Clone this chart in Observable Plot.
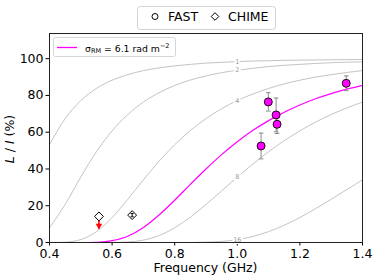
<!DOCTYPE html>
<html><head><meta charset="utf-8">
<script src="https://cdn.jsdelivr.net/npm/d3@7"></script>
<script src="https://cdn.jsdelivr.net/npm/@observablehq/plot@0.6"></script>
<style>
body{margin:0;background:#fff;font-family:"DejaVu Sans",sans-serif;}
#wrap{position:relative;width:374px;height:280px;overflow:hidden;background:#fff;}
#chart{position:absolute;left:0;top:30px;}
#legendTop{position:absolute;left:137px;top:6px;}
#legendIn{position:absolute;left:53px;top:37px;}
svg text{font-family:"DejaVu Sans",sans-serif;}
</style></head>
<body><div id="wrap"><div id="chart"></div><div id="legendTop"></div><div id="legendIn"></div></div>
<script>
// ---- data ----
const freqGHz = [0.40,0.45,0.50,0.55,0.60,0.65,0.70,0.75,0.80,0.85,0.90,0.95,1.00,1.05,1.10,1.15,1.20,1.25,1.30,1.35,1.40];
const sigmaLabels = ["1","2","4","8","16"];
const curveS1  = [53.2,67.4,77.2,83.8,88.3,91.3,93.5,95.0,96.1,96.9,97.6,98.0,98.4,98.7,98.9,99.1,99.2,99.3,99.4,99.5,99.6];
const curveS2  = [8.0,20.7,35.6,49.4,60.7,69.6,76.4,81.5,85.4,88.4,90.6,92.4,93.7,94.8,95.7,96.4,96.9,97.4,97.8,98.1,98.3];
const curveS4  = [0.0,0.2,1.6,5.9,13.6,23.5,34.1,44.2,53.2,60.9,67.4,72.8,77.2,80.8,83.8,86.3,88.3,90.0,91.3,92.5,93.5];
const curveS8  = [0.0,0.0,0.0,0.0,0.0,0.3,1.3,3.8,8.0,13.8,20.7,28.1,35.6,42.7,49.4,55.4,60.7,65.5,69.6,73.2,76.4];
const curveS16 = [0.0,0.0,0.0,0.0,0.0,0.0,0.0,0.0,0.0,0.0,0.2,0.6,1.6,3.3,5.9,9.4,13.6,18.4,23.5,28.8,34.1];
const fitCurve = [0.0,0.0,0.0,0.1,1.0,3.4,8.2,15.0,23.0,31.6,40.0,47.8,54.8,61.0,66.3,70.9,74.8,78.2,81.0,83.4,85.5];
const labelFreq = 1.0;

const fastFreq = [1.076,1.099,1.124,1.127,1.348];
const fastLI   = [52.5,76.5,69.4,64.3,86.6];
const fastErr  = [7.0,5.0,9.2,5.0,4.0];

const chimeFreq = [0.558,0.664];
const chimeLI   = [14.2,14.9];
const chimeErr  = [0,0.9];
const limitFreq = [0.558];
const limitFrom = [14.2];
const limitTo   = [7.3];

const xTicks = [0.4,0.6,0.8,1.0,1.2,1.4];
const yTicks = [0,20,40,60,80,100];

// ---- build tables ----
const curves = [curveS1,curveS2,curveS4,curveS8,curveS16];
const rows = [];
curves.forEach((arr,i)=>arr.forEach((v,j)=>rows.push({f:freqGHz[j],v,s:sigmaLabels[i]})));
const li = freqGHz.indexOf(labelFreq);
const labelRows = curves.map((arr,i)=>({f:freqGHz[li],v:arr[li],s:sigmaLabels[i]}));
const fitRows = fitCurve.map((v,j)=>({f:freqGHz[j],v}));
const fastRows = fastFreq.map((f,i)=>({f,v:fastLI[i],lo:fastLI[i]-fastErr[i],hi:fastLI[i]+fastErr[i]}));
const capRows = fastRows.flatMap(d=>[{f:d.f,v:d.lo},{f:d.f,v:d.hi}]);
const chimeRows = chimeFreq.map((f,i)=>({f,v:chimeLI[i],lo:chimeLI[i]-chimeErr[i],hi:chimeLI[i]+chimeErr[i],e:chimeErr[i]}));
const chimeErrRows = chimeRows.filter(d=>d.e>0);
const chimeCapRows = chimeErrRows.flatMap(d=>[{f:d.f,v:d.lo},{f:d.f,v:d.hi}]);
const limitRows = limitFreq.map((f,i)=>({f,from:limitFrom[i],to:limitTo[i]}));

const capSymbol = {draw(ctx,size){const r=Math.sqrt(size/Math.PI);ctx.moveTo(-r,0);ctx.lineTo(r,0);}};

const plot = Plot.plot({
  width:374, height:250,
  marginTop:3, marginBottom:38, marginLeft:49, marginRight:12,
  style:{fontFamily:'"DejaVu Sans", sans-serif', fontSize:"12.5px", color:"#000", background:"transparent", overflow:"visible"},
  x:{domain:[0.4,1.4], ticks:xTicks, tickFormat:d=>d.toFixed(1), label:null, tickSize:3.5, tickPadding:3.5},
  y:{domain:[0,113.7], ticks:yTicks, label:null, tickSize:3.5, tickPadding:2.5},
  marks:[
    Plot.line(rows,{x:"f",y:"v",z:"s",stroke:"#c4c4c4",strokeWidth:1,curve:"monotone-x"}),
    Plot.text(labelRows,{x:"f",y:"v",text:"s",fill:"#999",fontSize:6.5,stroke:"white",strokeWidth:4}),
    Plot.line(fitRows,{x:"f",y:"v",stroke:"#ff00ff",strokeWidth:1.2,curve:"monotone-x"}),
    Plot.ruleX(fastRows,{x:"f",y1:"lo",y2:"hi",stroke:"#8c8c8c",strokeWidth:1}),
    Plot.dot(capRows,{x:"f",y:"v",symbol:capSymbol,r:2.3,stroke:"#8c8c8c",fill:"none",strokeWidth:1}),
    Plot.dot(fastRows,{x:"f",y:"v",r:4,fill:"#ff00ff",stroke:"#000",strokeWidth:0.9}),
    Plot.ruleX(limitRows,{x:"f",y1:"from",y2:"to",stroke:"#ff0000",strokeWidth:1.6}),
    Plot.dot(limitRows,{x:"f",y:"to",symbol:"triangle",rotate:180,r:2.4,fill:"#ff0000",stroke:"none",dy:-3.4}),
    Plot.dot(chimeRows,{x:"f",y:"v",symbol:"diamond2",r:4,stroke:"#000",fill:"white",strokeWidth:1}),
    Plot.ruleX(chimeErrRows,{x:"f",y1:"lo",y2:"hi",stroke:"#000",strokeWidth:1}),
    Plot.dot(chimeCapRows,{x:"f",y:"v",symbol:capSymbol,r:1.5,stroke:"#000",fill:"none",strokeWidth:1}),
    Plot.frame({stroke:"#222",strokeWidth:1})
  ]
});
document.getElementById("chart").appendChild(plot);

// axis labels
const svg = d3.select(plot);
svg.append("text").attr("x",205.5).attr("y",242).attr("text-anchor","middle")
  .attr("font-size",12.5).attr("fill","#000").text("Frequency (GHz)");
const yl = svg.append("text").attr("transform","translate(14,109) rotate(-90)")
  .attr("text-anchor","middle").attr("font-size",12.5).attr("fill","#000");
yl.append("tspan").attr("font-style","italic").text("L");
yl.append("tspan").text(" / ");
yl.append("tspan").attr("font-style","italic").text("I");
yl.append("tspan").text(" (%)");

// top legend
const lt = d3.select("#legendTop").append("svg").attr("width",140).attr("height",25);
lt.append("rect").attr("x",0.5).attr("y",0.5).attr("width",138).attr("height",23).attr("rx",3)
  .attr("fill","#fff").attr("stroke","#d3d3d3");
lt.append("path").attr("d",d3.symbol(d3.symbolCircle, Math.PI*9)()).attr("transform","translate(18,10.5)")
  .attr("fill","none").attr("stroke","#000").attr("stroke-width",1);
lt.append("text").attr("x",31).attr("y",15.2).attr("font-size",12.5).text("FAST");
lt.append("path").attr("d","M0,-3.8L3.8,0L0,3.8L-3.8,0Z").attr("transform","translate(78,10.5)")
  .attr("fill","none").attr("stroke","#000").attr("stroke-width",1);
lt.append("text").attr("x",91).attr("y",15.2).attr("font-size",12.5).text("CHIME");

// inner legend
const lg = d3.select("#legendIn").append("svg").attr("width",124).attr("height",21);
lg.append("rect").attr("x",0.5).attr("y",0.5).attr("width",122).attr("height",19).attr("rx",2)
  .attr("fill","rgba(255,255,255,0.85)").attr("stroke","#d6d6d6");
lg.append("line").attr("x1",4).attr("x2",24).attr("y1",10.5).attr("y2",10.5)
  .attr("stroke","#ff00ff").attr("stroke-width",1.3);
const lgt = lg.append("text").attr("x",32).attr("y",14.6).attr("font-size",9.3).attr("fill","#000");
lgt.append("tspan").text("σ");
lgt.append("tspan").attr("font-size",6.5).attr("dy",1.8).text("RM");
lgt.append("tspan").attr("dy",-1.8).text(" = 6.1 rad m");
lgt.append("tspan").attr("font-size",6.5).attr("dy",-4).text("−2");
</script>
</body></html>
